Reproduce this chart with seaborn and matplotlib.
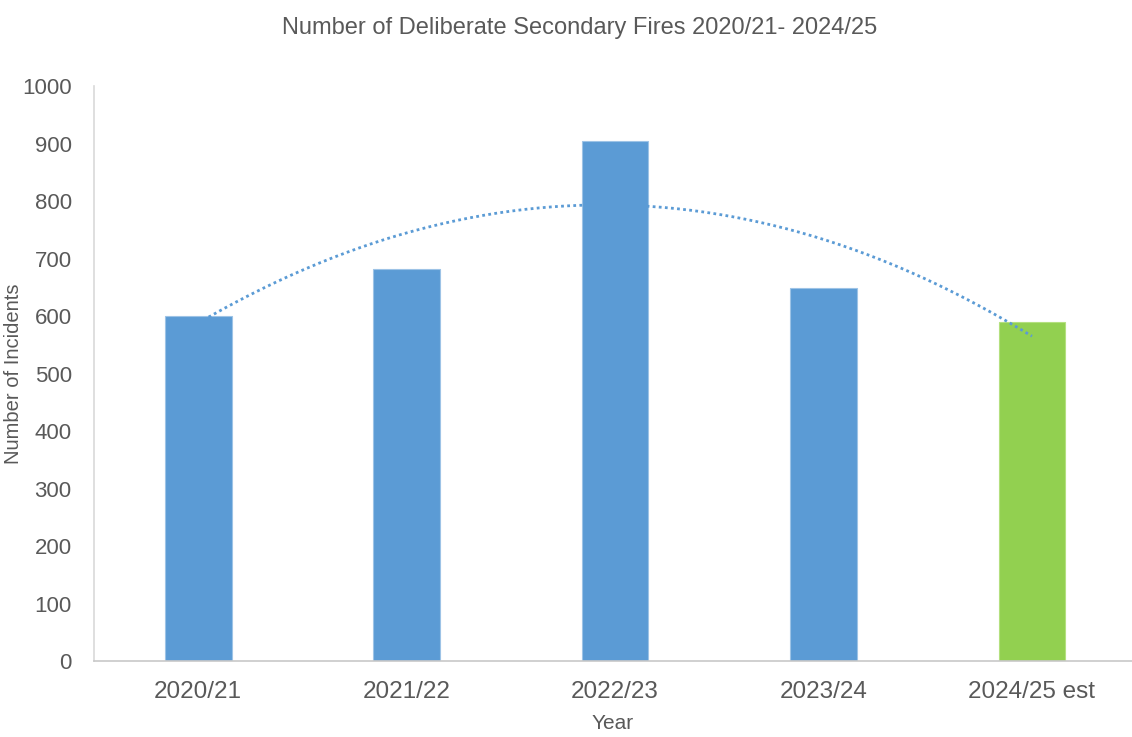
import numpy as np
import pandas as pd
import matplotlib
matplotlib.use("Agg")
import matplotlib.pyplot as plt
import seaborn as sns

years = ["2020/21", "2021/22", "2022/23", "2023/24", "2024/25 est"]
incidents = [601, 682, 904, 649, 589]
bar_colors = ["#5B9BD5", "#5B9BD5", "#5B9BD5", "#5B9BD5", "#92D050"]
y_ticks = [0, 100, 200, 300, 400, 500, 600, 700, 800, 900, 1000]

sns.set_style("white")
plt.rcParams['font.family'] = ['Liberation Sans', 'DejaVu Sans']
text_color = "#595959"

df = pd.DataFrame({"Year": years, "Incidents": incidents})

fig = plt.figure(figsize=(11.32, 7.37), dpi=100)
ax = fig.add_axes([0.083, 0.103, 0.917, 0.780])

sns.barplot(data=df, x="Year", y="Incidents", hue="Year", palette=bar_colors,
            width=0.32, legend=False, ax=ax, edgecolor="#9dc3e6", linewidth=0.8,
            saturation=1)
for patch, c in zip(ax.patches, bar_colors):
    if c == "#92D050":
        patch.set_edgecolor("#b4e07f")

# polynomial (order 2) trendline fitted to the data, like Excel
xs_idx = np.arange(len(incidents))
coef = np.polyfit(xs_idx, incidents, 2)
xt = np.linspace(0.05, len(incidents) - 1, 300)
ax.plot(xt, np.polyval(coef, xt), linestyle=(0, (1, 1.2)), color="#5B9BD5", linewidth=2)

ax.set_xlim(-0.5, 4.48)
ax.set_ylim(0, 1000)
ax.set_yticks(y_ticks)
ax.set_yticklabels([str(v) for v in y_ticks], fontsize=16, color=text_color)
ax.set_xticks(range(len(years)))
ax.set_xticklabels(years, fontsize=17.5, color=text_color)
ax.tick_params(axis="x", which="major", length=0, pad=14)
ax.set_xticks([-0.5, 0.5, 1.5, 2.5, 3.5], minor=True)
ax.tick_params(axis="x", which="minor", length=8, width=1.2, color="#c8c8c8", direction="out")
ax.tick_params(axis="y", length=0, pad=16)

for s in ["top", "right"]:
    ax.spines[s].set_visible(False)
ax.spines["left"].set_color("#d9d9d9")
ax.spines["left"].set_linewidth(1.2)
ax.spines["bottom"].set_color("#c8c8c8")
ax.spines["bottom"].set_linewidth(1.2)

ax.set_xlabel("Year", fontsize=15, color=text_color, labelpad=8)
ax.set_ylabel("Number of Incidents", fontsize=14.5, color=text_color, labelpad=4)
ax.yaxis.set_label_coords(-0.068, 0.5)

fig.text(0.512, 0.962, "Number of Deliberate Secondary Fires 2020/21- 2024/25",
         ha="center", va="center", fontsize=17, color=text_color)

fig.savefig("out.png", dpi=100)
